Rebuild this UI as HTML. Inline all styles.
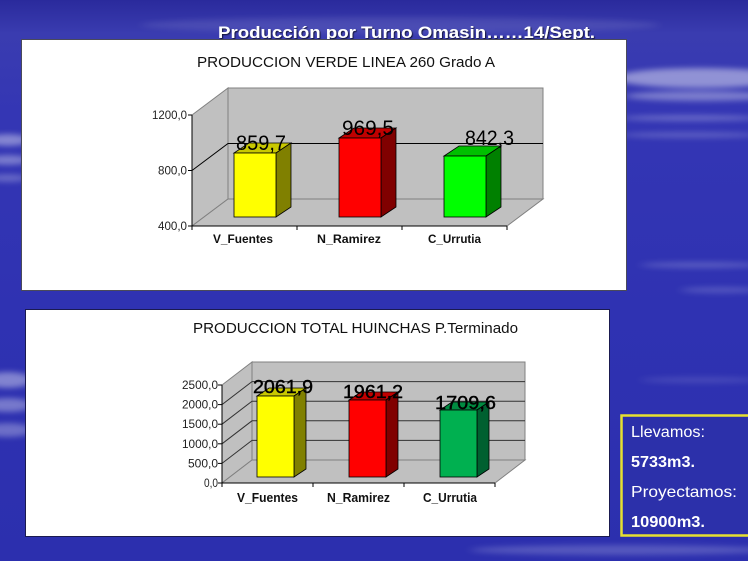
<!DOCTYPE html>
<html>
<head>
<meta charset="utf-8">
<style>
  html,body{margin:0;padding:0;background:#2f31b0;}
  svg{display:block;}
  text{font-family:"Liberation Sans", Arial, sans-serif;}
</style>
</head>
<body>
<svg width="748" height="561" viewBox="0 0 748 561" xmlns="http://www.w3.org/2000/svg">
  <defs>
    <linearGradient id="bg" x1="0" y1="0" x2="0" y2="1">
      <stop offset="0" stop-color="#2a2a9c"/>
      <stop offset="0.06" stop-color="#3a3cb0"/>
      <stop offset="0.2" stop-color="#3436b4"/>
      <stop offset="0.55" stop-color="#2f32b2"/>
      <stop offset="1" stop-color="#2c2fae"/>
    </linearGradient>
    <filter id="blur" x="-50%" y="-50%" width="200%" height="200%">
      <feGaussianBlur stdDeviation="5 3"/>
    </filter>
    <filter id="shadow" x="-10%" y="-30%" width="120%" height="160%">
      <feDropShadow dx="1" dy="1" stdDeviation="0.6" flood-color="#000" flood-opacity="0.7"/>
    </filter>
  </defs>

  <!-- background -->
  <rect x="0" y="0" width="748" height="561" fill="url(#bg)"/>
  <g filter="url(#blur)" fill="#ffffff">
    <ellipse cx="700" cy="78" rx="85" ry="10" opacity="0.45"/>
    <ellipse cx="700" cy="96" rx="75" ry="5" opacity="0.35"/>
    <ellipse cx="690" cy="118" rx="70" ry="3" opacity="0.25"/>
    <ellipse cx="690" cy="135" rx="70" ry="3" opacity="0.2"/>
    <ellipse cx="700" cy="265" rx="60" ry="3" opacity="0.2"/>
    <ellipse cx="720" cy="290" rx="40" ry="3" opacity="0.18"/>
    <ellipse cx="8" cy="140" rx="22" ry="6" opacity="0.4"/>
    <ellipse cx="8" cy="160" rx="22" ry="5" opacity="0.35"/>
    <ellipse cx="8" cy="178" rx="20" ry="4" opacity="0.25"/>
    <ellipse cx="8" cy="380" rx="25" ry="8" opacity="0.4"/>
    <ellipse cx="8" cy="405" rx="25" ry="7" opacity="0.35"/>
    <ellipse cx="8" cy="430" rx="25" ry="7" opacity="0.3"/>
    <ellipse cx="400" cy="25" rx="260" ry="8" opacity="0.1"/>
    <ellipse cx="620" cy="550" rx="150" ry="5" opacity="0.2"/>
    <ellipse cx="700" cy="380" rx="60" ry="3" opacity="0.12"/>
  </g>

  <!-- main title -->
  <text x="218" y="38" font-size="17" font-weight="bold" fill="#ffffff" textLength="377" lengthAdjust="spacingAndGlyphs" filter="url(#shadow)">Producción por Turno Omasin……14/Sept.</text>

  <!-- ============ TOP PANEL ============ -->
  <rect x="21.5" y="39.5" width="605" height="251" fill="#ffffff" stroke="#4a4a5a" stroke-width="1"/>
  <text x="197" y="67" font-size="15" fill="#111" textLength="298" lengthAdjust="spacingAndGlyphs">PRODUCCION VERDE LINEA 260 Grado A</text>

  <polygon points="192,115 228,88 228,199 192,226" fill="#c0c0c0" stroke="#808080" stroke-width="1"/>
  <polygon points="192,226 228,199 543,199 507,226" fill="#c0c0c0" stroke="#808080" stroke-width="1"/>
  <rect x="228" y="88" width="315" height="111" fill="#c0c0c0" stroke="#808080" stroke-width="1"/>
  <polyline points="192,170.5 228,143.5 543,143.5" fill="none" stroke="#000" stroke-width="1"/>
  <line x1="192" y1="115" x2="192" y2="226" stroke="#000" stroke-width="1"/>
  <line x1="188" y1="115" x2="192" y2="115" stroke="#000"/>
  <line x1="188" y1="170.5" x2="192" y2="170.5" stroke="#000"/>
  <line x1="188" y1="226" x2="192" y2="226" stroke="#000"/>
  <line x1="192" y1="226" x2="507" y2="226" stroke="#000" stroke-width="1"/>
  <line x1="192" y1="226" x2="192" y2="230" stroke="#000"/>
  <line x1="297" y1="226" x2="297" y2="230" stroke="#000"/>
  <line x1="402" y1="226" x2="402" y2="230" stroke="#000"/>
  <line x1="507" y1="226" x2="507" y2="230" stroke="#000"/>
  <g font-size="11.5" fill="#222" text-anchor="end">
    <text x="187" y="119" textLength="35" lengthAdjust="spacingAndGlyphs">1200,0</text>
    <text x="187" y="174.5" textLength="29" lengthAdjust="spacingAndGlyphs">800,0</text>
    <text x="187" y="230" textLength="29" lengthAdjust="spacingAndGlyphs">400,0</text>
  </g>

  <g stroke="#000" stroke-width="0.8">
    <polygon points="234,153 276,153 291,143 249,143" fill="#c8c800"/>
    <polygon points="276,153 291,143 291,207 276,217" fill="#808000"/>
    <rect x="234" y="153" width="42" height="64" fill="#ffff00"/>

    <polygon points="339,138 381,138 396,128 354,128" fill="#c00000"/>
    <polygon points="381,138 396,128 396,207 381,217" fill="#800000"/>
    <rect x="339" y="138" width="42" height="79" fill="#ff0000"/>

    <polygon points="444,156 486,156 501,146 459,146" fill="#00c000"/>
    <polygon points="486,156 501,146 501,207 486,217" fill="#008000"/>
    <rect x="444" y="156" width="42" height="61" fill="#00ff00"/>
  </g>
  <g font-size="21" fill="#000">
    <text x="236" y="150" textLength="50" lengthAdjust="spacingAndGlyphs">859,7</text>
    <text x="342" y="135" textLength="52" lengthAdjust="spacingAndGlyphs">969,5</text>
    <text x="465" y="145" textLength="49" lengthAdjust="spacingAndGlyphs">842,3</text>
  </g>
  <g font-size="12" font-weight="bold" fill="#111">
    <text x="213" y="243" textLength="60" lengthAdjust="spacingAndGlyphs">V_Fuentes</text>
    <text x="317" y="243" textLength="64" lengthAdjust="spacingAndGlyphs">N_Ramirez</text>
    <text x="428" y="243" textLength="53" lengthAdjust="spacingAndGlyphs">C_Urrutia</text>
  </g>

  <!-- ============ BOTTOM PANEL ============ -->
  <rect x="25.5" y="309.5" width="584" height="227" fill="#ffffff" stroke="#1a1a50" stroke-width="1"/>
  <text x="193" y="333" font-size="15" fill="#111" textLength="325" lengthAdjust="spacingAndGlyphs">PRODUCCION TOTAL HUINCHAS P.Terminado</text>

  <polygon points="222,385 252,362 252,460 222,483" fill="#c0c0c0" stroke="#808080" stroke-width="1"/>
  <polygon points="222,483 252,460 525,460 495,483" fill="#c0c0c0" stroke="#808080" stroke-width="1"/>
  <rect x="252" y="362" width="273" height="98" fill="#c0c0c0" stroke="#808080" stroke-width="1"/>
  <g fill="none" stroke="#333" stroke-width="1">
    <polyline points="222,463.4 252,440.4 525,440.4"/>
    <polyline points="222,443.8 252,420.8 525,420.8"/>
    <polyline points="222,424.2 252,401.2 525,401.2"/>
    <polyline points="222,404.6 252,381.6 525,381.6"/>
  </g>
  <line x1="222" y1="385" x2="222" y2="483" stroke="#000"/>
  <g stroke="#000">
    <line x1="218" y1="385" x2="222" y2="385"/>
    <line x1="218" y1="404.6" x2="222" y2="404.6"/>
    <line x1="218" y1="424.2" x2="222" y2="424.2"/>
    <line x1="218" y1="443.8" x2="222" y2="443.8"/>
    <line x1="218" y1="463.4" x2="222" y2="463.4"/>
    <line x1="218" y1="483" x2="222" y2="483"/>
    <line x1="222" y1="483" x2="495" y2="483"/>
    <line x1="222" y1="483" x2="222" y2="487"/>
    <line x1="313" y1="483" x2="313" y2="487"/>
    <line x1="404" y1="483" x2="404" y2="487"/>
    <line x1="495" y1="483" x2="495" y2="487"/>
  </g>
  <g font-size="11.5" fill="#222" text-anchor="end">
    <text x="218" y="389" textLength="36" lengthAdjust="spacingAndGlyphs">2500,0</text>
    <text x="218" y="408.6" textLength="36" lengthAdjust="spacingAndGlyphs">2000,0</text>
    <text x="218" y="428.2" textLength="36" lengthAdjust="spacingAndGlyphs">1500,0</text>
    <text x="218" y="447.8" textLength="36" lengthAdjust="spacingAndGlyphs">1000,0</text>
    <text x="218" y="467.4" textLength="30" lengthAdjust="spacingAndGlyphs">500,0</text>
    <text x="218" y="487" textLength="14" lengthAdjust="spacingAndGlyphs">0,0</text>
  </g>

  <g stroke="#000" stroke-width="0.8">
    <polygon points="257,396 294,396 306,388 269,388" fill="#c8c800"/>
    <polygon points="294,396 306,388 306,469 294,477" fill="#808000"/>
    <rect x="257" y="396" width="37" height="81" fill="#ffff00"/>

    <polygon points="349,400 386,400 398,392 361,392" fill="#c00000"/>
    <polygon points="386,400 398,392 398,469 386,477" fill="#800000"/>
    <rect x="349" y="400" width="37" height="77" fill="#ff0000"/>

    <polygon points="440,410 477,410 489,402 452,402" fill="#008a40"/>
    <polygon points="477,410 489,402 489,469 477,477" fill="#006030"/>
    <rect x="440" y="410" width="37" height="67" fill="#00b050"/>
  </g>
  <g font-size="18" fill="#000" stroke="#000" stroke-width="0.4">
    <text x="253" y="393" textLength="60" lengthAdjust="spacingAndGlyphs">2061,9</text>
    <text x="343" y="398" textLength="60" lengthAdjust="spacingAndGlyphs">1961,2</text>
    <text x="435" y="409" textLength="61" lengthAdjust="spacingAndGlyphs">1709,6</text>
  </g>
  <g font-size="13" font-weight="bold" fill="#111">
    <text x="237" y="502" textLength="61" lengthAdjust="spacingAndGlyphs">V_Fuentes</text>
    <text x="327" y="502" textLength="63" lengthAdjust="spacingAndGlyphs">N_Ramirez</text>
    <text x="423" y="502" textLength="54" lengthAdjust="spacingAndGlyphs">C_Urrutia</text>
  </g>

  <!-- info box -->
  <rect x="621.5" y="415.5" width="128" height="120" fill="#2c30aa" stroke="#e6e030" stroke-width="2.5"/>
  <g font-size="16" fill="#ffffff">
    <text x="631" y="437" textLength="74" lengthAdjust="spacingAndGlyphs">Llevamos:</text>
    <text x="631" y="467" font-weight="bold" textLength="64" lengthAdjust="spacingAndGlyphs">5733m3.</text>
    <text x="631" y="497" textLength="106" lengthAdjust="spacingAndGlyphs">Proyectamos:</text>
    <text x="631" y="527" font-weight="bold" textLength="74" lengthAdjust="spacingAndGlyphs">10900m3.</text>
  </g>
</svg>
</body>
</html>
